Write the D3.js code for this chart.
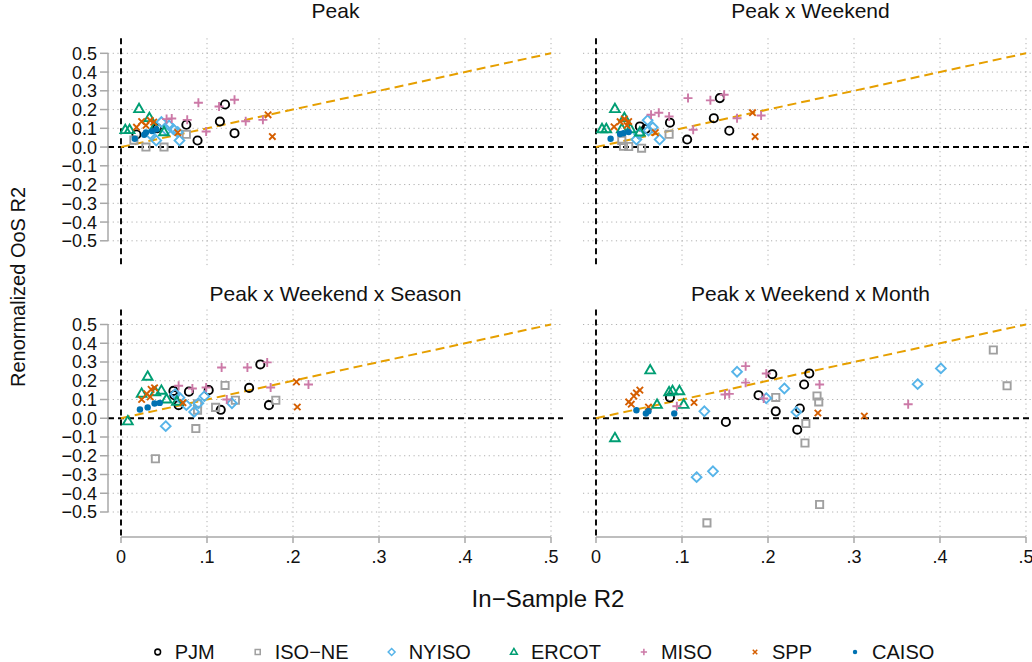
<!DOCTYPE html>
<html>
<head>
<meta charset="utf-8">
<style>
html, body { margin: 0; padding: 0; background: #fff; }
svg { display: block; font-family: "Liberation Sans", Arial, sans-serif; }
</style>
</head>
<body>
<svg id="chart" width="1032" height="662"></svg>
<script src="https://cdn.jsdelivr.net/npm/d3@7"></script>
<script>
// panel titles, in drawing order: top-left, top-right, bottom-left, bottom-right
var panels = ["Peak", "Peak x Weekend", "Peak x Weekend x Season", "Peak x Weekend x Month"];
var series = ["PJM", "ISO\u2212NE", "NYISO", "ERCOT", "MISO", "SPP", "CAISO"];
var xTicks = [0, 0.1, 0.2, 0.3, 0.4, 0.5];
var xTickLabels = ["0", ".1", ".2", ".3", ".4", ".5"];
var yTicks = [0.5, 0.4, 0.3, 0.2, 0.1, 0, -0.1, -0.2, -0.3, -0.4, -0.5];
var yTickLabels = ["0.5", "0.4", "0.3", "0.2", "0.1", "0.0", "\u22120.1", "\u22120.2", "\u22120.3", "\u22120.4", "\u22120.5"];

// [in-sample R2, renormalized OoS R2], one list per panel
var pjm = [
  [[0.121,0.227],[0.115,0.136],[0.132,0.074],[0.089,0.035],[0.076,0.119],[0.042,0.100],[0.018,0.067]],
  [[0.144,0.261],[0.137,0.154],[0.155,0.087],[0.106,0.040],[0.086,0.130],[0.051,0.110],[0.058,0.097]],
  [[0.162,0.287],[0.149,0.162],[0.172,0.070],[0.116,0.045],[0.102,0.150],[0.079,0.142],[0.061,0.146],[0.062,0.123],[0.067,0.070]],
  [[0.205,0.235],[0.189,0.123],[0.209,0.037],[0.151,-0.020],[0.086,0.111],[0.234,-0.061],[0.237,0.052],[0.242,0.180],[0.248,0.239]]
];
var isone = [
  [[0.050,0.000],[0.029,0.000],[0.076,0.068],[0.015,0.037]],
  [[0.053,-0.006],[0.038,0.003],[0.032,0.004],[0.085,0.068],[0.030,0.035]],
  [[0.040,-0.216],[0.087,-0.055],[0.121,0.175],[0.133,0.096],[0.180,0.096],[0.110,0.058],[0.089,0.043],[0.089,0.077]],
  [[0.129,-0.558],[0.209,0.111],[0.244,-0.028],[0.243,-0.132],[0.257,0.119],[0.259,0.087],[0.260,-0.460],[0.462,0.364],[0.478,0.173]]
];
var nyiso = [
  [[0.034,0.070],[0.041,0.035],[0.047,0.133],[0.053,0.090],[0.061,0.095],[0.066,0.080],[0.068,0.035],[0.056,0.115]],
  [[0.074,0.040],[0.047,0.040],[0.060,0.143],[0.066,0.105],[0.061,0.088],[0.050,0.070]],
  [[0.052,-0.042],[0.063,0.130],[0.068,0.110],[0.076,0.070],[0.085,0.034],[0.090,0.080],[0.097,0.118],[0.129,0.080]],
  [[0.117,-0.314],[0.136,-0.283],[0.126,0.037],[0.164,0.248],[0.198,0.107],[0.219,0.159],[0.233,0.034],[0.374,0.182],[0.401,0.266]]
];
var ercot = [
  [[0.021,0.204],[0.005,0.092],[0.010,0.092],[0.033,0.156],[0.039,0.106],[0.050,0.081]],
  [[0.022,0.204],[0.007,0.097],[0.012,0.097],[0.033,0.156],[0.040,0.097],[0.051,0.079],[0.030,0.097]],
  [[0.008,-0.015],[0.031,0.223],[0.024,0.132],[0.040,0.140],[0.047,0.148],[0.053,0.102],[0.065,0.090]],
  [[0.022,-0.105],[0.063,0.257],[0.085,0.140],[0.089,0.146],[0.097,0.146],[0.071,0.073],[0.102,0.073]]
];
var miso = [
  [[0.090,0.236],[0.114,0.216],[0.132,0.252],[0.145,0.138],[0.165,0.145],[0.099,0.083],[0.077,0.145],[0.053,0.149],[0.059,0.152]],
  [[0.107,0.261],[0.133,0.249],[0.149,0.279],[0.164,0.154],[0.192,0.168],[0.113,0.092],[0.085,0.163],[0.064,0.172],[0.073,0.183]],
  [[0.117,0.271],[0.147,0.271],[0.170,0.298],[0.174,0.164],[0.218,0.180],[0.123,0.100],[0.099,0.164],[0.083,0.159],[0.067,0.173]],
  [[0.174,0.278],[0.174,0.190],[0.198,0.239],[0.150,0.127],[0.155,0.130],[0.195,0.105],[0.094,0.064],[0.260,0.180],[0.363,0.075]]
];
var spp = [
  [[0.171,0.172],[0.176,0.056],[0.066,0.077],[0.024,0.136],[0.034,0.142],[0.018,0.106],[0.029,0.115],[0.038,0.133]],
  [[0.182,0.183],[0.185,0.056],[0.069,0.077],[0.021,0.108],[0.028,0.135],[0.033,0.150],[0.036,0.115],[0.038,0.136]],
  [[0.204,0.194],[0.205,0.060],[0.072,0.083],[0.024,0.100],[0.030,0.130],[0.035,0.154],[0.039,0.162],[0.034,0.114]],
  [[0.038,0.087],[0.041,0.075],[0.044,0.118],[0.047,0.135],[0.051,0.150],[0.061,0.060],[0.114,0.084],[0.258,0.028],[0.312,0.012]]
];
var caiso = [
  [[0.016,0.044],[0.027,0.066],[0.029,0.078],[0.036,0.085],[0.041,0.095]],
  [[0.017,0.044],[0.028,0.070],[0.032,0.074],[0.038,0.080]],
  [[0.022,0.047],[0.031,0.058],[0.039,0.079],[0.045,0.082]],
  [[0.047,0.043],[0.058,0.025],[0.061,0.037],[0.091,0.025]]
];
var seriesData = [pjm, isone, nyiso, ercot, miso, spp, caiso];
var fitLine = [[0, 0], [0.5, 0.5]];

var colors = ["#000000", "#a0a0a0", "#56b4e9", "#009e73", "#cc79a7", "#d55e00", "#0072b2"];
var shapes = ["circle", "square", "diamond", "triangle", "plus", "cross", "dot"];

var svg = d3.select("#chart");

// panel geometry: x 0..0.5 over 430px, y -0.5..0.5 over 187px
var cols = [121, 596], rows = [53.3, 324.5];
var W = 430, H = 187.5;
var titleY = [17.5, 301];

function symbolPath(shape, s) {
  switch (shape) {
    case "circle": return d3.arc()({innerRadius: 0, outerRadius: 4.1 * s, startAngle: 0, endAngle: 2 * Math.PI});
    case "square": var a = 3.6 * s; return "M" + -a + "," + -a + "H" + a + "V" + a + "H" + -a + "Z";
    case "diamond": var d = 4.9 * s; return "M0," + -d + "L" + d + ",0L0," + d + "L" + -d + ",0Z";
    case "triangle": var t = 5.1 * s; return "M0," + (-t) + "L" + (t * 0.95) + "," + (t * 0.65) + "L" + (-t * 0.95) + "," + (t * 0.65) + "Z";
    case "plus": var p = 4.5 * s; return "M" + -p + ",0H" + p + "M0," + -p + "V" + p;
    case "cross": var c = 3.2 * s; return "M" + -c + "," + -c + "L" + c + "," + c + "M" + c + "," + -c + "L" + -c + "," + c;
    case "dot": return d3.arc()({innerRadius: 0, outerRadius: 3.2 * s, startAngle: 0, endAngle: 2 * Math.PI});
  }
}

function drawMarker(sel, i, s) {
  sel.append("path")
    .attr("d", symbolPath(shapes[i], s))
    .attr("fill", shapes[i] === "dot" ? colors[i] : "none")
    .attr("stroke", shapes[i] === "dot" ? "none" : colors[i])
    .attr("stroke-width", 1.9 * Math.max(s, 0.8));
}

panels.forEach(function(title, p) {
  var col = p % 2, row = Math.floor(p / 2);
  var x = d3.scaleLinear().domain([0, 0.5]).range([cols[col], cols[col] + W]);
  var y = d3.scaleLinear().domain([-0.5, 0.5]).range([rows[row] + H, rows[row]]);
  var xl = x.invert(x(0) - 13), xr = x.invert(x(0.5) + 12);
  var yt = y.invert(y(0.5) - 15), yb = y.invert(y(-0.5) + 25);
  var g = svg.append("g");

  g.append("text")
    .attr("x", (x(xl) + x(xr)) / 2).attr("y", titleY[row])
    .attr("text-anchor", "middle").attr("font-size", 21).attr("fill", "#111")
    .text(title);

  // dotted grid
  g.selectAll(".hg").data(yTicks.filter(function(v) { return v !== 0; })).enter().append("line")
    .attr("x1", x(xl)).attr("x2", x(xr))
    .attr("y1", function(d) { return y(d); }).attr("y2", function(d) { return y(d); })
    .attr("stroke", "#b0b0b0").attr("stroke-width", 1).attr("stroke-dasharray", "1.2,3.5");
  g.selectAll(".vg").data(xTicks.filter(function(v) { return v !== 0; })).enter().append("line")
    .attr("y1", y(yt)).attr("y2", y(yb))
    .attr("x1", function(d) { return x(d); }).attr("x2", function(d) { return x(d); })
    .attr("stroke", "#b0b0b0").attr("stroke-width", 1).attr("stroke-dasharray", "1.2,3.5");

  // zero reference lines
  g.append("line").attr("x1", x(xl)).attr("x2", x(xr)).attr("y1", y(0)).attr("y2", y(0))
    .attr("stroke", "#000").attr("stroke-width", 1.9).attr("stroke-dasharray", "6,4");
  g.append("line").attr("x1", x(0)).attr("x2", x(0)).attr("y1", y(yt)).attr("y2", y(yb))
    .attr("stroke", "#000").attr("stroke-width", 1.9).attr("stroke-dasharray", "6,4");

  // y axis on left column
  if (col === 0) {
    var ax = x(xl);
    g.append("line").attr("x1", ax).attr("x2", ax).attr("y1", y(0.5)).attr("y2", y(-0.5))
      .attr("stroke", "#a8a8a8").attr("stroke-width", 1.5);
    g.selectAll(".yt").data(yTicks).enter().append("line")
      .attr("x1", ax - 8).attr("x2", ax)
      .attr("y1", function(d) { return y(d); }).attr("y2", function(d) { return y(d); })
      .attr("stroke", "#a8a8a8").attr("stroke-width", 1.5);
    g.selectAll(".yl").data(yTicks).enter().append("text")
      .attr("x", ax - 11).attr("y", function(d) { return y(d); }).attr("dy", "0.36em")
      .attr("text-anchor", "end").attr("font-size", 18).attr("fill", "#111")
      .text(function(d, i) { return yTickLabels[i]; });
  }
  // x axis on bottom row
  if (row === 1) {
    var ay = y(yb);
    g.append("line").attr("x1", x(0)).attr("x2", x(0.5)).attr("y1", ay).attr("y2", ay)
      .attr("stroke", "#a8a8a8").attr("stroke-width", 1.5);
    g.selectAll(".xt").data(xTicks).enter().append("line")
      .attr("x1", function(d) { return x(d); }).attr("x2", function(d) { return x(d); })
      .attr("y1", ay).attr("y2", ay + 6)
      .attr("stroke", "#a8a8a8").attr("stroke-width", 1.5);
    g.selectAll(".xl").data(xTicks).enter().append("text")
      .attr("x", function(d) { return x(d); }).attr("y", ay + 26)
      .attr("text-anchor", "middle").attr("font-size", 18).attr("fill", "#111")
      .text(function(d, i) { return xTickLabels[i]; });
  }

  // 45 degree line
  g.append("path").datum(fitLine)
    .attr("d", d3.line().x(function(d) { return x(d[0]); }).y(function(d) { return y(d[1]); }))
    .attr("stroke", "#e69f00").attr("stroke-width", 2).attr("stroke-dasharray", "9,5").attr("fill", "none");

  seriesData.forEach(function(sd, i) {
    g.selectAll(null).data(sd[p]).enter().append("g")
      .attr("transform", function(d) { return "translate(" + x(d[0]) + "," + y(d[1]) + ")"; })
      .each(function() { drawMarker(d3.select(this), i, 1); });
  });
});

// axis titles
svg.append("text").attr("transform", "translate(25,287) rotate(-90)")
  .attr("text-anchor", "middle").attr("font-size", 20).attr("fill", "#111")
  .text("Renormalized OoS R2");
svg.append("text").attr("x", 548).attr("y", 607)
  .attr("text-anchor", "middle").attr("font-size", 24).attr("fill", "#111")
  .text("In\u2212Sample R2");

// legend
var legend = svg.append("g");
var lx = 0;
series.forEach(function(name, i) {
  var item = legend.append("g").attr("transform", "translate(" + lx + ",0)");
  drawMarker(item, i, 0.7);
  var t = item.append("text").attr("x", 17).attr("dy", "0.35em")
    .attr("font-size", 20).attr("fill", "#111").text(name);
  lx += 17 + t.node().getComputedTextLength() + 43;
});
legend.attr("transform", "translate(" + (548 - (lx - 43) / 2 - 2) + ",652)");
</script>
</body>
</html>
